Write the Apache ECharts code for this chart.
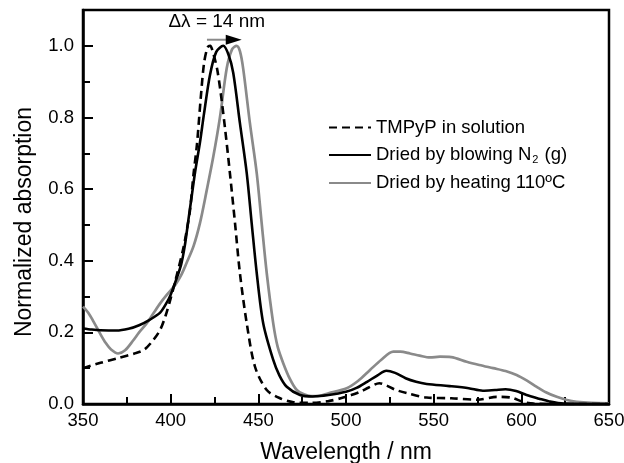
<!DOCTYPE html>
<html>
<head>
<meta charset="utf-8">
<script src="https://cdn.jsdelivr.net/npm/echarts@6/dist/echarts.min.js"></script>
<style>html,body{margin:0;padding:0;background:#fff}#c{width:624px;height:463px}</style>
</head>
<body>
<div id="c"></div>
<script>
// Wavelength (nm) and normalized absorption for each curve
var wlSolution = [350,360,370,380,385,390,394,397,400,403,407,409,411,413,415,417,419,421,422.5,424.5,426.5,428.5,431,433.8,436.7,439.5,443.4,448.1,454.8,462.4,470,480,490,497,503,508,513,519,523,528,535,546,560,575,586,594,601,607,620,650];
var absSolution = [0.100,0.115,0.128,0.142,0.152,0.178,0.207,0.245,0.295,0.350,0.430,0.480,0.540,0.640,0.725,0.845,0.950,0.995,1.000,0.975,0.935,0.870,0.770,0.644,0.505,0.365,0.225,0.104,0.039,0.016,0.005,0.003,0.008,0.016,0.025,0.034,0.046,0.058,0.052,0.040,0.030,0.018,0.016,0.012,0.020,0.018,0.006,0.001,0.000,0.000];

var wlN2 = [350,355,360,369,376,382,388,394,398,400,403,406,408,410,412,414,416.7,419,422.4,426,430,433,435.7,439.5,443.4,446.2,449.1,452.8,458.5,462,466.2,473.8,481,490,500,506,512,518,523,528,534,540,546,559,570,578,585,591,597,603,610,616,624,650];
var absN2 = [0.211,0.208,0.206,0.205,0.210,0.220,0.235,0.255,0.285,0.305,0.345,0.390,0.440,0.510,0.580,0.650,0.730,0.810,0.918,0.983,1.000,0.975,0.924,0.784,0.644,0.505,0.365,0.225,0.123,0.080,0.048,0.025,0.021,0.025,0.034,0.045,0.062,0.080,0.093,0.087,0.072,0.062,0.056,0.050,0.044,0.037,0.039,0.041,0.036,0.025,0.015,0.007,0.001,0.000];

var wlHeat = [350,353,356,359.7,363,366,370,374,378.7,382,386.3,390,394,398,402.5,406,409,413,416.7,420.5,424.3,428.1,432,435,437.6,439.5,441.4,445.2,449.1,451.9,454.8,458.5,461,464.2,468,471.9,476,480,484,490,500.4,507,513.7,520,527,531,536.5,542,547.9,553.6,560,568.8,576,584,591,597.3,603,608.8,614,620.2,626,631.6,640,650];
var absHeat = [0.272,0.255,0.230,0.197,0.170,0.152,0.141,0.150,0.178,0.200,0.225,0.252,0.281,0.306,0.332,0.360,0.393,0.440,0.505,0.595,0.690,0.800,0.938,0.990,1.000,0.985,0.935,0.784,0.644,0.505,0.365,0.225,0.160,0.114,0.070,0.039,0.027,0.022,0.022,0.030,0.044,0.065,0.095,0.123,0.146,0.146,0.141,0.135,0.130,0.132,0.131,0.118,0.109,0.100,0.092,0.081,0.066,0.048,0.033,0.020,0.011,0.006,0.003,0.002];

var seriesNames = ['TMPyP in solution', 'Dried by blowing N2 (g)', 'Dried by heating 110ºC'];
var xTicks = [350, 400, 450, 500, 550, 600, 650];
var yTicks = [0.0, 0.2, 0.4, 0.6, 0.8, 1.0];
var annotationText = 'Δλ = 14 nm';

function zip(a, b) { return a.map(function (v, i) { return [v, b[i]]; }); }

var FONT = '"Liberation Sans", Arial, sans-serif';
var chart = echarts.init(document.getElementById('c'), null, {renderer: 'canvas'});

var option = {
  animation: false,
  backgroundColor: '#fff',
  grid: {left: 83, right: 15, top: 10, bottom: 59, containLabel: false, outerBoundsMode: 'none',
    show: true, borderColor: '#000', borderWidth: 2.5, backgroundColor: 'transparent'},
  xAxis: {
    type: 'value', min: xTicks[0], max: xTicks[xTicks.length - 1], interval: 50,
    name: 'Wavelength / nm', nameLocation: 'middle', nameGap: 37,
    nameTextStyle: {fontFamily: FONT, fontSize: 23, color: '#000'},
    axisLine: {show: true, lineStyle: {color: '#000', width: 2.5}},
    axisTick: {show: true, inside: true, length: 10, lineStyle: {color: '#000', width: 2}},
    minorTick: {show: true, splitNumber: 2, length: 7, lineStyle: {color: '#000', width: 2}},
    axisLabel: {fontFamily: FONT, fontSize: 18.5, color: '#000', margin: 7},
    splitLine: {show: false}
  },
  yAxis: {
    type: 'value', min: 0, max: 1.1, interval: 0.2,
    name: 'Normalized absorption', nameLocation: 'middle', nameGap: 47,
    nameTextStyle: {fontFamily: FONT, fontSize: 23, color: '#000', padding: [0, 30, 0, 0]},
    axisLine: {show: true, lineStyle: {color: '#000', width: 2.5}},
    axisTick: {show: true, inside: true, length: 10, lineStyle: {color: '#000', width: 2}},
    minorTick: {show: true, splitNumber: 2, length: 7, lineStyle: {color: '#000', width: 2}},
    axisLabel: {fontFamily: FONT, fontSize: 18.5, color: '#000', margin: 9, showMaxLabel: false,
      formatter: function (v) { return yTicks.some(function (t) { return Math.abs(t - v) < 1e-6; }) ? v.toFixed(1) : ''; }},
    splitLine: {show: false}
  },
  legend: {
    orient: 'vertical', left: 328, top: 118, padding: 0, itemGap: 8.5,
    itemWidth: 42, itemHeight: 14,
    data: seriesNames,
    itemStyle: {color: 'rgba(0,0,0,0)', borderWidth: 0, opacity: 0},
    formatter: function (name) { return name.replace('N2', 'N{sub|2}'); },
    textStyle: {fontFamily: FONT, fontSize: 18.5, color: '#000',
      rich: {sub: {fontFamily: FONT, fontSize: 11, color: '#000', verticalAlign: 'bottom', padding: [9, 1, 0, 1]}}}
  },
  series: [
    {name: seriesNames[0], type: 'line', data: zip(wlSolution, absSolution), smooth: 0.3, symbol: 'none', z: 3,
      lineStyle: {color: '#000', width: 2.6, type: [8, 5]}, itemStyle: {color: '#000'}},
    {name: seriesNames[1], type: 'line', data: zip(wlN2, absN2), smooth: 0.3, symbol: 'none', z: 4,
      lineStyle: {color: '#000', width: 2.6}, itemStyle: {color: '#000'}},
    {name: seriesNames[2], type: 'line', data: zip(wlHeat, absHeat), smooth: 0.3, symbol: 'none', z: 2,
      lineStyle: {color: '#8a8a8a', width: 2.7}, itemStyle: {color: '#8a8a8a'}}
  ]
};
chart.setOption(option);

// Annotation: Δλ text and arrow, positioned in data space
var pText = chart.convertToPixel({gridIndex: 0}, [426.1, 1.064]);
var pA = chart.convertToPixel({gridIndex: 0}, [420.7, 1.017]);
var pB = chart.convertToPixel({gridIndex: 0}, [432.0, 1.017]);
var pC = chart.convertToPixel({gridIndex: 0}, [440.5, 1.017]);
chart.setOption({
  graphic: [
    {type: 'text', left: pText[0] - 48, top: pText[1] - 11, z: 10,
      style: {text: annotationText, fontFamily: FONT, fontSize: 19, fill: '#000'}},
    {type: 'line', z: 10, shape: {x1: pA[0], y1: pA[1], x2: pB[0], y2: pB[1]},
      style: {stroke: '#8a8a8a', lineWidth: 2}},
    {type: 'polygon', z: 11, shape: {points: [[pB[0] - 1, pB[1] - 5], [pC[0], pB[1]], [pB[0] - 1, pB[1] + 5]]},
      style: {fill: '#000'}}
  ]
});
</script>
</body>
</html>
